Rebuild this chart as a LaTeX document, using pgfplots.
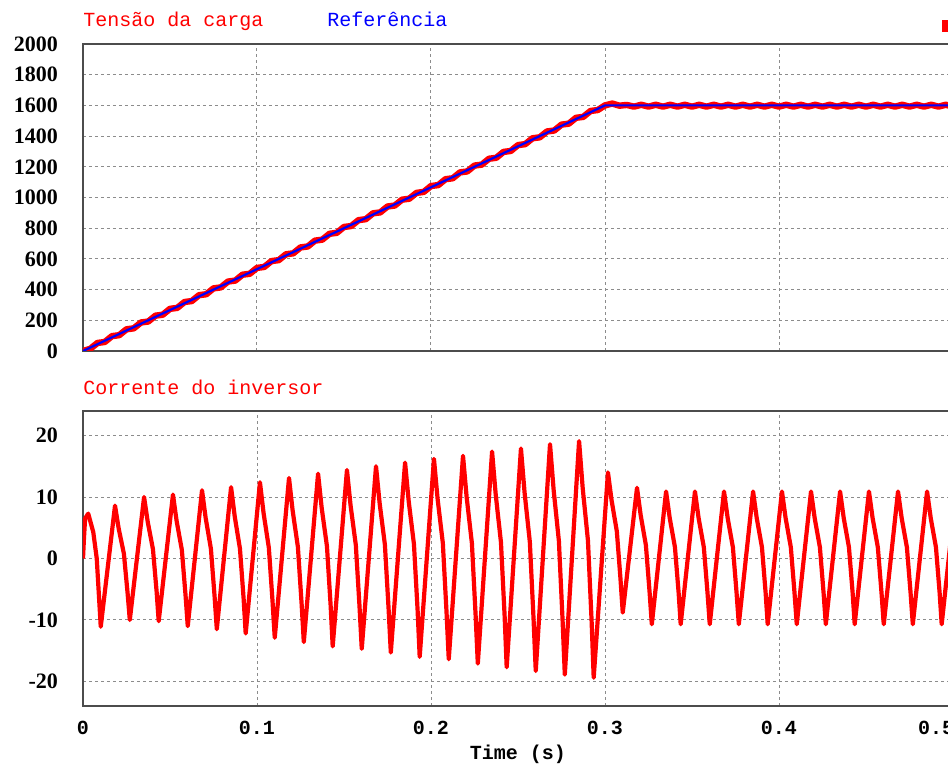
\documentclass[border=0pt]{standalone}
\usepackage{pgfplots}
\pgfplotsset{compat=1.18}
\usepackage{fontspec}
\setmainfont{Liberation Serif}
\setmonofont{Liberation Mono}
\begin{document}
\begin{tikzpicture}
\pgfplotsset{
 common/.style={
  scale only axis, width=435pt,
  xmin=0, xmax=0.5,
  xtick={0,0.1,0.2,0.3,0.4,0.5},
  grid=major,
  major grid style={black!45, dash pattern=on 1.5pt off 1.5pt, line width=0.5pt},
  axis line style={black!70, line width=1pt},
  major tick length=0pt,
  scaled ticks=false,
  /pgf/number format/assume math mode=true,
  /pgf/number format/1000 sep={},
  /pgf/number format/fixed,
  yticklabel style={font=\fontsize{11}{12}\selectfont\bfseries, xshift=-9pt},
  xticklabel style={font=\fontsize{10}{12}\selectfont\ttfamily\bfseries, yshift=-4pt},
 }
}
\begin{axis}[common, name=top, at={(0,0)}, anchor=south west,
  height=153.5pt, ymin=0, ymax=2000, ytick={0,200,...,2000}, xticklabels={}]
\addplot[red, line width=3.2pt, line join=round] table {
0 0
0.00417 14.2
0.00833 52.4
0.0125 58.7
0.01667 96.9
0.02083 103.1
0.025 141.3
0.02917 147.6
0.03333 185.8
0.0375 192.0
0.04167 230.2
0.04583 236.4
0.05 274.7
0.05417 280.9
0.05833 319.1
0.0625 325.3
0.06667 363.6
0.07083 369.8
0.075 408.0
0.07917 414.2
0.08333 452.4
0.0875 458.7
0.09167 496.9
0.09583 503.1
0.1 541.3
0.10417 547.6
0.10833 585.8
0.1125 592.0
0.11667 630.2
0.12083 636.4
0.125 674.7
0.12917 680.9
0.13333 719.1
0.1375 725.3
0.14167 763.6
0.14583 769.8
0.15 808.0
0.15417 814.2
0.15833 852.4
0.1625 858.7
0.16667 896.9
0.17083 903.1
0.175 941.3
0.17917 947.6
0.18333 985.8
0.1875 992.0
0.19167 1030.2
0.19583 1036.4
0.2 1074.7
0.20417 1080.9
0.20833 1119.1
0.2125 1125.3
0.21667 1163.6
0.22083 1169.8
0.225 1208.0
0.22917 1214.2
0.23333 1252.4
0.2375 1258.7
0.24167 1296.9
0.24583 1303.1
0.25 1341.3
0.25417 1347.6
0.25833 1385.8
0.2625 1392.0
0.26667 1430.2
0.27083 1436.4
0.275 1474.7
0.27917 1480.9
0.28333 1519.1
0.2875 1525.3
0.29167 1563.6
0.29583 1569.8
0.3 1600
0.30417 1612
0.30833 1598
0.3125 1603
0.31667 1592
0.32083 1604
0.325 1592
0.32917 1604
0.33333 1592
0.3375 1604
0.34167 1592
0.34583 1604
0.35 1592
0.35417 1604
0.35833 1592
0.3625 1604
0.36667 1592
0.37083 1604
0.375 1592
0.37917 1604
0.38333 1592
0.3875 1604
0.39167 1592
0.39583 1604
0.4 1592
0.40417 1604
0.40833 1592
0.4125 1604
0.41667 1592
0.42083 1604
0.425 1592
0.42917 1604
0.43333 1592
0.4375 1604
0.44167 1592
0.44583 1604
0.45 1592
0.45417 1604
0.45833 1592
0.4625 1604
0.46667 1592
0.47083 1604
0.475 1592
0.47917 1604
0.48333 1592
0.4875 1604
0.49167 1592
0.49583 1604
0.5 1592
};
\addplot[blue, line width=1.1pt] table {
0 0
0.3 1600
0.5 1600
};
\end{axis}
\begin{axis}[common, name=bot, at={(0,-30pt)}, anchor=north west,
  height=147.5pt, ymin=-24, ymax=24, ytick={-20,-10,0,10,20},
  xticklabels={0,0.1,0.2,0.3,0.4,{\makebox[0pt][c]{\kern-17pt 0.5}}},
  xlabel={Time (s)},
  xlabel style={font=\fontsize{10}{12}\selectfont\ttfamily\bfseries, yshift=1.5pt}]
\addplot[red, line width=2.1pt, line join=round] table {
0 0
0.0005 3.0
0.0012 6.5
0.0030 7.3
0.0059 4.3
0.0079 0.0
0.0102 -11.1
0.0184 8.6
0.0205 4.88
0.0235 0.79
0.0256 -5.54
0.0269 -10.0
0.0351 10.0
0.0372 5.96
0.0402 1.52
0.0423 -5.35
0.0435 -10.2
0.0517 10.4
0.0538 6.12
0.0568 1.41
0.0589 -5.86
0.0602 -11.0
0.0684 11.1
0.0705 6.58
0.0735 1.61
0.0756 -6.08
0.0769 -11.5
0.0851 11.6
0.0872 6.84
0.0902 1.6
0.0923 -6.49
0.0935 -12.2
0.1017 12.4
0.1038 7.34
0.1068 1.77
0.1089 -6.83
0.1102 -12.9
0.1184 13.1
0.1205 7.76
0.1235 1.89
0.1256 -7.19
0.1269 -13.6
0.1351 13.8
0.1372 8.18
0.1402 2.0
0.1423 -7.56
0.1435 -14.3
0.1517 14.4
0.1538 8.58
0.1568 2.18
0.1589 -7.72
0.1602 -14.7
0.1684 15.0
0.1705 8.94
0.1735 2.27
0.1756 -8.03
0.1769 -15.3
0.1851 15.6
0.1872 9.28
0.1902 2.33
0.1923 -8.42
0.1935 -16.0
0.2017 16.2
0.2038 9.68
0.2068 2.51
0.2089 -8.58
0.2102 -16.4
0.2184 16.7
0.2205 9.94
0.2235 2.5
0.2256 -8.99
0.2269 -17.1
0.2351 17.4
0.2372 10.38
0.2402 2.66
0.2423 -9.28
0.2435 -17.7
0.2517 17.9
0.2538 10.66
0.2568 2.7
0.2589 -9.61
0.2602 -18.3
0.2684 18.6
0.2705 11.1
0.2735 2.85
0.2756 -9.9
0.2769 -18.9
0.2851 19.1
0.2872 11.4
0.2902 2.93
0.2923 -10.16
0.2935 -19.4
0.3017 14.0
0.3038 9.44
0.3068 4.42
0.3089 -3.33
0.3102 -8.8
0.3184 11.5
0.3205 7.06
0.3235 2.18
0.3256 -5.37
0.3269 -10.7
0.3351 10.9
0.3372 6.58
0.3402 1.83
0.3423 -5.52
0.3435 -10.7
0.3517 10.9
0.3538 6.58
0.3568 1.83
0.3589 -5.52
0.3602 -10.7
0.3684 10.9
0.3705 6.58
0.3735 1.83
0.3756 -5.52
0.3769 -10.7
0.3851 10.9
0.3872 6.58
0.3902 1.83
0.3923 -5.52
0.3935 -10.7
0.4017 10.9
0.4038 6.58
0.4068 1.83
0.4089 -5.52
0.4102 -10.7
0.4184 10.9
0.4205 6.58
0.4235 1.83
0.4256 -5.52
0.4269 -10.7
0.4351 10.9
0.4372 6.58
0.4402 1.83
0.4423 -5.52
0.4435 -10.7
0.4517 10.9
0.4538 6.58
0.4568 1.83
0.4589 -5.52
0.4602 -10.7
0.4684 10.9
0.4705 6.58
0.4735 1.83
0.4756 -5.52
0.4769 -10.7
0.4851 10.9
0.4872 6.58
0.4902 1.83
0.4923 -5.52
0.4935 -10.7
0.5017 10.9
};
\end{axis}
\node[anchor=base west, text=red, font=\fontsize{10}{12}\selectfont\ttfamily, inner sep=0pt] at ([yshift=8.5pt]top.north west) {Tensão da carga};
\node[anchor=base west, text=blue, font=\fontsize{10}{12}\selectfont\ttfamily, inner sep=0pt] at ([xshift=122pt, yshift=8.5pt]top.north west) {Referência};
\node[anchor=base west, text=red, font=\fontsize{10}{12}\selectfont\ttfamily, inner sep=0pt] at ([yshift=8pt]bot.north west) {Corrente do inversor};
\fill[red] (429.3pt,159.7pt) rectangle (440pt,165.5pt);
\pgfresetboundingbox
\useasboundingbox (-41.5pt,-207pt) rectangle (432.5pt,175.5pt);
\end{tikzpicture}
\end{document}
